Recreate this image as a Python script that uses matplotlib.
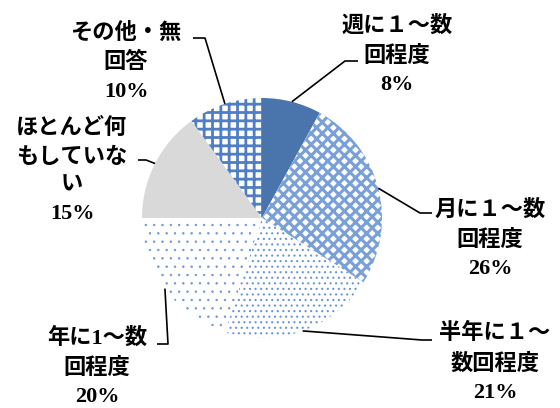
import numpy as np
import matplotlib.pyplot as plt

plt.rcParams['font.family'] = ['Liberation Serif', 'Noto Sans CJK JP']

# answer categories (clockwise from 12 o'clock) and their shares in %
categories = ['週に１～数\n回程度', '月に１～数\n回程度', '半年に１～\n数回程度',
              '年に1～数\n回程度', 'ほとんど何\nもしていな\nい', 'その他・無\n回答']
shares = [8, 26, 21, 20, 15, 10]

W, H = 560, 408
fig = plt.figure(figsize=(W / 100, H / 100), dpi=100)
ax = fig.add_axes([0, 0, 1, 1])

# work in pixel units, y pointing up
cx, cy, r = 262, H - 218, 120
wedges, _ = ax.pie(shares, startangle=90, counterclock=False, center=(cx, cy),
                   radius=r, wedgeprops=dict(linewidth=0))
ax.set_xlim(0, W)
ax.set_ylim(0, H)
ax.set_aspect('equal')
ax.axis('off')

# fill colour, hatch colour, hatch pattern, hatch width
fills = [
    ('#4a74ac', '#4a74ac', None, 1.0),
    ('white', '#7aa0d8', 'xxx', 2.2),
    ('white', '#6a96d8', '...', 0.8),
    ('white', '#6a96d8', '..', 0.5),
    ('#d9d9d9', '#d9d9d9', None, 1.0),
    ('white', '#4f7ec4', '++', 2.0),
]
for w, (fc, hc, hatch, hlw) in zip(wedges, fills):
    w.set_facecolor(fc)
    w.set_edgecolor(hc)
    w.set_linewidth(0)
    if hatch:
        w.set_hatch(hatch)
        if hasattr(w, 'set_hatch_linewidth'):
            w.set_hatch_linewidth(hlw)
        else:
            w._hatch_linewidth = hlw

# label block centres and leader elbows, in pixels from the top-left
label_pos = [(397, 55), (490, 239), (495, 363), (97, 367), (72, 171), (126, 62)]
elbows = [
    [(345, 61), (358, 61)],
    [(420, 213), (432, 213)],
    [(422, 340), (432, 340)],
    [(168, 344), (157, 344)],
    [(146, 160), (138, 160)],
    [(205, 38), (193, 38)],
]

start = 90.0
for name, share, (lx, ly), elbow in zip(categories, shares, label_pos, elbows):
    mid = np.deg2rad(start - share * 3.6 / 2)
    start -= share * 3.6
    ex, ey = cx + r * np.cos(mid), cy + r * np.sin(mid)
    xs = [ex] + [p[0] for p in elbow]
    ys = [ey] + [H - p[1] for p in elbow]
    ax.plot(xs, ys, color='black', lw=1.2, solid_capstyle='butt')
    ax.text(lx, H - ly, f'{name}\n{share}%', ha='center', va='center',
            multialignment='center', fontsize=16, fontweight='bold',
            linespacing=1.55, color='black')

fig.savefig('out.png', dpi=100)
